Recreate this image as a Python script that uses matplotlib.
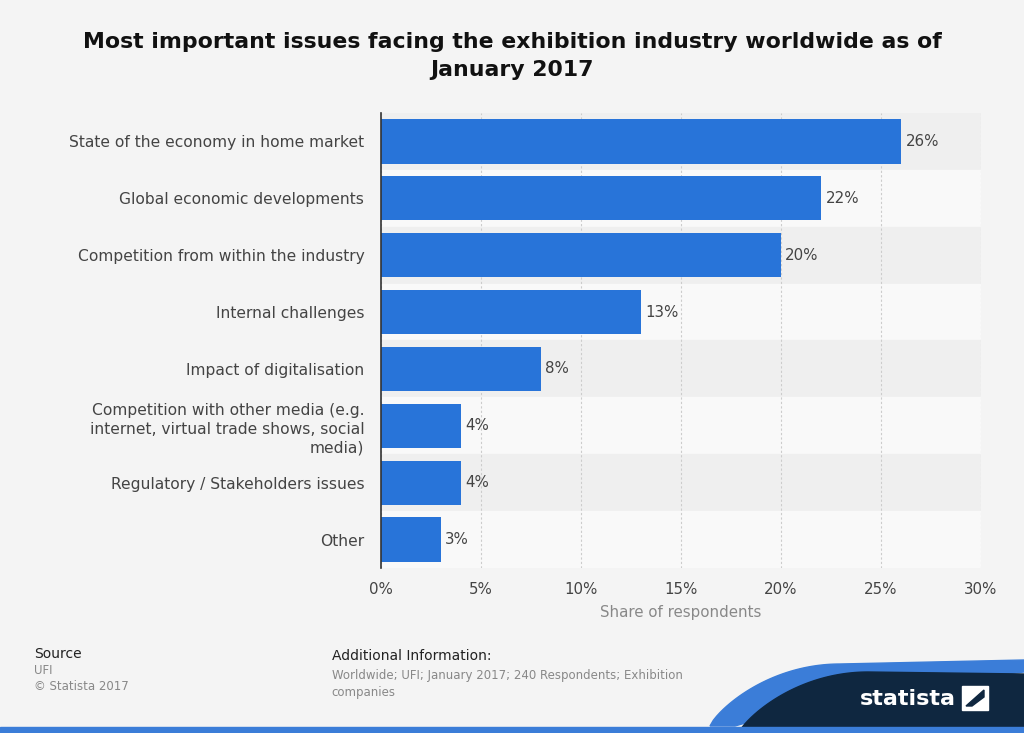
import numpy as np
import matplotlib.pyplot as plt
from matplotlib.patches import Polygon, Rectangle

plt.rcParams['font.family'] = ['DejaVu Sans']

categories = [
    'State of the economy in home market',
    'Global economic developments',
    'Competition from within the industry',
    'Internal challenges',
    'Impact of digitalisation',
    'Competition with other media (e.g.\ninternet, virtual trade shows, social\nmedia)',
    'Regulatory / Stakeholders issues',
    'Other',
]
values = [26, 22, 20, 13, 8, 4, 4, 3]
xticks = [0, 5, 10, 15, 20, 25, 30]

BG = '#f4f4f4'
BAR = '#2874d9'
TXT = '#444444'


def main():
    fig = plt.figure(figsize=(10.24, 7.33), dpi=100, facecolor=BG)
    ax = fig.add_axes([0.372, 0.225, 0.586, 0.621])
    ax.set_facecolor(BG)

    n = len(values)
    y = np.arange(n)
    # alternating row bands
    for i in range(n):
        ax.axhspan(i - 0.5, i + 0.5, color='#efefef' if i % 2 == 0 else '#f9f9f9', zorder=0)

    ax.barh(y, values, height=0.78, color=BAR, zorder=3)
    for yi, v in zip(y, values):
        ax.text(v + 0.22, yi, f'{v}%', va='center', ha='left', fontsize=10.8, color=TXT, zorder=4)

    ax.set_ylim(n - 0.5, -0.5)
    ax.set_xlim(0, 30)
    ax.set_yticks(y)
    ax.set_yticklabels(categories, fontsize=11.2, color=TXT, ha='right', multialignment='right',
                       linespacing=1.3)
    ax.set_xticks(xticks)
    ax.set_xticklabels([f'{t}%' for t in xticks], fontsize=10.8, color=TXT)
    ax.tick_params(length=0)
    ax.tick_params(axis='y', pad=12)
    ax.tick_params(axis='x', pad=10)
    ax.xaxis.grid(True, color='#cccccc', linestyle=(0, (2, 2)), linewidth=0.8, zorder=1)
    ax.set_axisbelow(False)
    for s in ['top', 'right', 'bottom']:
        ax.spines[s].set_visible(False)
    ax.spines['left'].set_color('#333333')
    ax.spines['left'].set_linewidth(1.2)
    ax.spines['left'].set_zorder(5)
    ax.set_xlabel('Share of respondents', fontsize=10.8, color='#888888', labelpad=6)

    fig.text(0.5, 0.923, 'Most important issues facing the exhibition industry worldwide as of\nJanuary 2017',
             ha='center', va='center', fontsize=15.8, fontweight='bold', color='#111111', linespacing=1.5)

    # footer
    fig.text(0.033, 0.103, 'Source', fontsize=10, color='#222222')
    fig.text(0.033, 0.081, 'UFI', fontsize=8.5, color='#888888')
    fig.text(0.033, 0.058, '\u00a9 Statista 2017', fontsize=8.5, color='#888888')
    fig.text(0.324, 0.1, 'Additional Information:', fontsize=10, color='#222222')
    fig.text(0.324, 0.051, 'Worldwide; UFI; January 2017; 240 Respondents; Exhibition\ncompanies',
             fontsize=8.5, color='#888888', linespacing=1.4)

    # logo area
    fx = fig.add_axes([0, 0, 1, 1], zorder=-1)
    fx.set_xlim(0, 1024)
    fx.set_ylim(733, 0)
    fx.axis('off')
    t = np.linspace(0, 1, 40)
    curve_x = 710 + 130 * t
    curve_y = 726 - 62 * (1 - (1 - t) ** 2) ** 0.8
    swoosh = list(zip(curve_x, curve_y)) + [(1024, 660), (1024, 672), (860, 690)] + [(735, 726)]
    fx.add_patch(Polygon(swoosh, closed=True, color='#3b7dd8', zorder=1))
    navy = list(zip(curve_x + 28, curve_y + 8)) + [(1024, 674), (1024, 733), (738, 733)]
    fx.add_patch(Polygon(navy, closed=True, color='#0f2740', zorder=2))
    fx.add_patch(Rectangle((0, 727), 1024, 6, color='#3b7dd8', zorder=3))
    fig.text(0.887, 0.047, 'statista', fontsize=16, fontweight='bold', color='white',
             ha='center', va='center', zorder=5)
    fx.add_patch(Rectangle((962, 686), 26, 24, color='white', zorder=4))
    fx.add_patch(Polygon([(966, 706), (984, 690), (984, 697), (972, 706)], closed=True,
                         color='#0f2740', zorder=5))

    fig.savefig('out.png', dpi=100, facecolor=BG)


if __name__ == '__main__':
    main()
